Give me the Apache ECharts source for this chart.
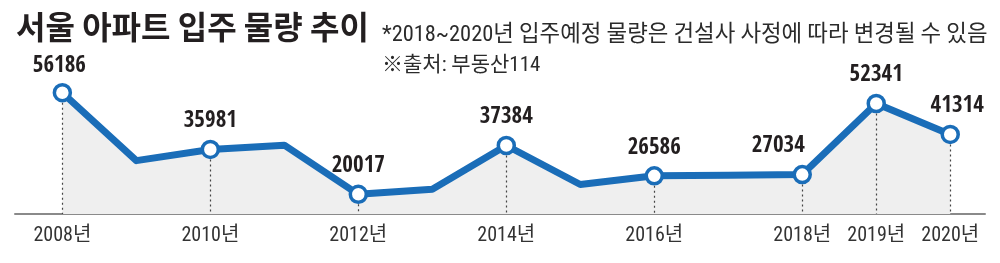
<!DOCTYPE html>
<html><head><meta charset="utf-8">
<script src="https://cdn.jsdelivr.net/npm/echarts@6/dist/echarts.min.js"></script>
<style>html,body{margin:0;padding:0;background:#fff}#c{width:1000px;height:263px}</style>
</head><body><div id="c"></div>
<script>
const years = [2008,2009,2010,2011,2012,2013,2014,2015,2016,2017,2018,2019,2020];
const values = [56186,32000,35981,37500,20017,21800,37384,23500,26586,26800,27034,52341,41314];
const labeledYears = [2008,2010,2012,2014,2016,2018,2019,2020];
const titleText = '서울 아파트 입주 물량 추이';
const noteText = '*2018~2020년 입주예정 물량은 건설사 사정에 따라 변경될 수 있음';
const sourceText = '※출처: 부동산114';
const yearSuffix = '년';

const labelOffsets = {2008:[-3,2],2018:[-24,0],2020:[7,0]};
const BLUE = '#1a6db8';
const COND = '"Roboto Condensed","Noto Sans CJK KR",sans-serif';
const CONDB = '"Open Sans Condensed","Roboto Condensed",sans-serif';

const data = years.map((y,i)=>{
  const lab = labeledYears.includes(y);
  return {
    value:[y, values[i]],
    symbol: lab ? 'circle' : 'none',
    symbolSize: lab ? 16 : 0,
    label:{show:lab, offset: labelOffsets[y] || [0,0]}
  };
});
const areaData = years.map((y,i)=>[y, values[i]]);
const yMin = 13000, yMax = 60000;
const dropLines = labeledYears.map(y=>{
  const v = values[years.indexOf(y)];
  return [{coord:[y,v]},{coord:[y,yMin]}];
});

const chart = echarts.init(document.getElementById('c'));
chart.setOption({
  animation:false,
  title:[
    {text:titleText,left:11,top:6,textStyle:{fontFamily:'"Noto Sans CJK KR"',fontWeight:'bold',fontSize:32,color:'#231f20'}},
    {text:noteText,left:377,top:19,textStyle:{fontFamily:COND,fontWeight:'normal',fontSize:22.4,color:'#2b2b2b'}},
    {text:sourceText,left:377,top:50,textStyle:{fontFamily:COND,fontWeight:'normal',fontSize:21,color:'#2b2b2b'}}
  ],
  grid:{left:15,right:15,top:82,bottom:49},
  xAxis:{type:'value',min:2007.36,max:2020.47,
    axisLine:{show:true,lineStyle:{color:'#8a8a8a',width:2}},
    axisTick:{show:false},splitLine:{show:false},
    axisLabel:{customValues:labeledYears,formatter:v=>v+yearSuffix,fontFamily:COND,fontSize:20,color:'#333',margin:12}
  },
  yAxis:{type:'value',min:yMin,max:yMax,show:false,splitLine:{show:false}},
  series:[{
    type:'line',data:areaData,symbol:'none',silent:true,z:1,
    lineStyle:{width:0},
    areaStyle:{color:'#efefef',origin:'start',opacity:1}
  },{
    type:'line',data:data,
    lineStyle:{color:BLUE,width:7,join:'round'},
    itemStyle:{color:'#fff',borderColor:BLUE,borderWidth:3.5},
    label:{position:'top',distance:7,fontFamily:CONDB,fontWeight:'bold',fontSize:23,color:'#231f20',formatter:p=>String(p.value[1])},
    markLine:{z:2,silent:true,symbol:'none',label:{show:false},lineStyle:{color:'#444',type:[2,3],width:1.2},data:dropLines},
    z:3
  }]
});
</script></body></html>
